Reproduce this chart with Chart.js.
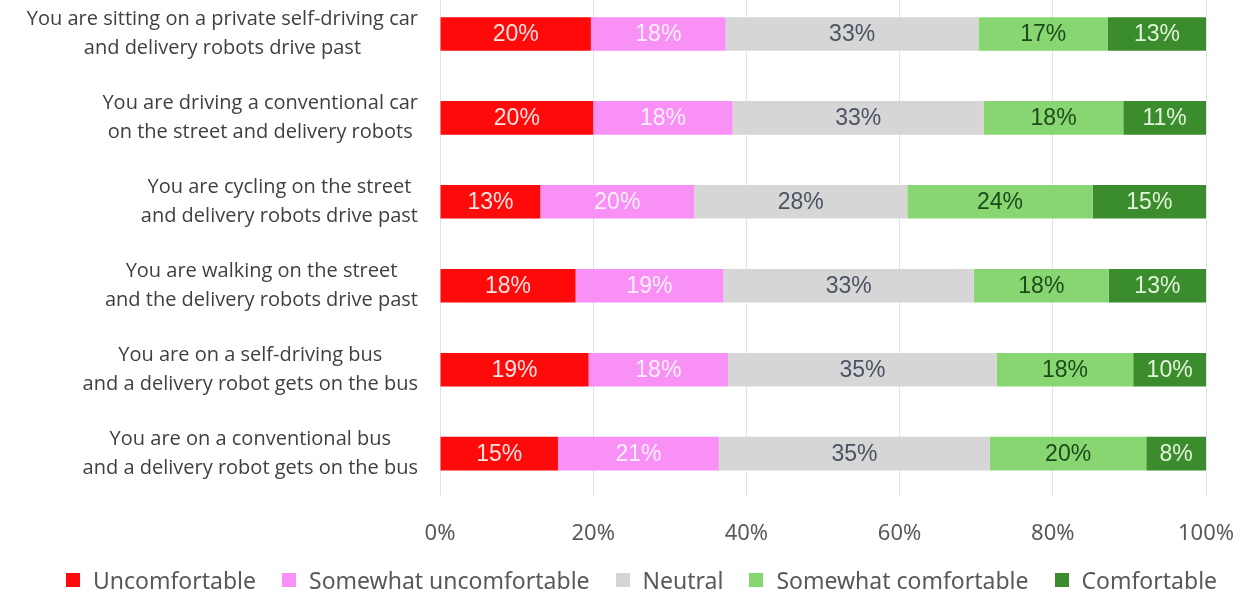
<!DOCTYPE html>
<html lang="en">
<head>
    <meta charset="UTF-8">
    <title>Comfort with delivery robots</title>
    <script src="https://cdn.jsdelivr.net/npm/chart.js"></script>
    <style>
        body {
            margin: 0;
            background-color: #FFFFFF;
            font-family: 'Noto Sans', sans-serif;
            overflow: hidden;
        }
        #chart-wrap {
            position: relative;
            width: 1247px;
            height: 580px;
            margin-top: -8px;
        }
        #legend-container {
            position: absolute;
            top: 566px;
            left: 36px;
            width: 1211px;
            display: flex;
            justify-content: center;
            line-height: 28px;
        }
        .legend-item {
            display: flex;
            align-items: center;
            margin: 0 13px;
        }
        .legend-color {
            width: 14px;
            height: 14px;
            margin-right: 13px;
        }
        .legend-label {
            font-size: 23px;
            color: #595959;
        }
    </style>
</head>
<body>
    <div id="chart-wrap"><canvas id="myChart"></canvas></div>
    <div id="legend-container"></div>

    <script>
        // situations (two lines each)
        var categories = [
            ['You are sitting on a private self-driving car', 'and delivery robots drive past'],
            ['You are driving a conventional car', 'on the street and delivery robots'],
            ['You are cycling on the street', 'and delivery robots drive past'],
            ['You are walking on the street', 'and the delivery robots drive past'],
            ['You are on a self-driving bus', 'and a delivery robot gets on the bus'],
            ['You are on a conventional bus', 'and a delivery robot gets on the bus']
        ];

        var seriesNames = ['Uncomfortable', 'Somewhat uncomfortable', 'Neutral', 'Somewhat comfortable', 'Comfortable'];

        // share of respondents, %
        var uncomfortable         = [19.7, 20.0, 13.1, 17.7, 19.4, 15.4];
        var somewhatUncomfortable = [17.6, 18.2, 20.1, 19.3, 18.2, 21.0];
        var neutral               = [33.0, 32.8, 27.8, 32.7, 35.1, 35.4];
        var somewhatComfortable   = [16.9, 18.2, 24.2, 17.6, 17.8, 20.4];
        var comfortable           = [12.8, 10.8, 14.8, 12.7,  9.5,  7.8];

        var xTicks = [0, 20, 40, 60, 80, 100];

        var colors = ['#ff0a0a', '#f890f5', '#d6d6d6', '#88d672', '#3b8c2c'];
        var labelColors = ['#ffe2e2', '#fff0fe', '#4a5361', '#1d4a1a', '#e2f4dc'];

        var seriesData = [uncomfortable, somewhatUncomfortable, neutral, somewhatComfortable, comfortable];

        var chartData = {
            labels: categories,
            datasets: seriesNames.map(function(name, i) {
                return {
                    label: name,
                    data: seriesData[i],
                    backgroundColor: colors[i],
                    borderWidth: 0,
                    categoryPercentage: 0.8,
                    barPercentage: 0.5
                };
            })
        };

        // value labels inside each segment
        var segmentLabels = {
            id: 'segmentLabels',
            afterDatasetsDraw: function(chart) {
                var ctx = chart.ctx;
                ctx.save();
                ctx.font = '23px "Liberation Sans", Arial, sans-serif';
                ctx.textAlign = 'center';
                ctx.textBaseline = 'middle';
                chart.data.datasets.forEach(function(ds, di) {
                    var meta = chart.getDatasetMeta(di);
                    ctx.fillStyle = labelColors[di];
                    meta.data.forEach(function(bar, i) {
                        var cx = (bar.x + bar.base) / 2;
                        ctx.fillText(Math.round(ds.data[i]) + '%', cx, bar.y + 1);
                    });
                });
                ctx.restore();
            }
        };

        // category labels: each block centred on its own widest line, right edge at the axis
        var categoryLabels = {
            id: 'categoryLabels',
            afterDraw: function(chart) {
                var ctx = chart.ctx;
                var yScale = chart.scales.y;
                var right = chart.chartArea.left - 22;
                ctx.save();
                ctx.font = '20px "Open Sans", sans-serif';
                ctx.fillStyle = '#404040';
                ctx.textAlign = 'center';
                ctx.textBaseline = 'middle';
                chart.data.labels.forEach(function(lines, i) {
                    var widest = Math.max.apply(null, lines.map(function(t) { return ctx.measureText(t).width; }));
                    var cx = right - widest / 2;
                    var cy = yScale.getPixelForValue(i);
                    ctx.fillText(lines[0], cx, cy - 14.5);
                    ctx.fillText(lines[1], cx, cy + 14.5);
                });
                ctx.restore();
            }
        };

        var ctx = document.getElementById('myChart').getContext('2d');
        var myChart = new Chart(ctx, {
            type: 'bar',
            data: chartData,
            plugins: [segmentLabels, categoryLabels],
            options: {
                indexAxis: 'y',
                responsive: true,
                maintainAspectRatio: false,
                animation: false,
                layout: {
                    padding: { top: 0, right: 41, bottom: 0, left: 0 }
                },
                scales: {
                    x: {
                        stacked: true,
                        min: 0,
                        max: 100,
                        afterBuildTicks: function(scale) {
                            scale.ticks = xTicks.map(function(v) { return { value: v }; });
                        },
                        afterFit: function(scale) {
                            // the end labels fit inside the layout padding
                            scale.paddingLeft = 0;
                            scale.paddingRight = 0;
                        },
                        ticks: {
                            callback: function(value) { return value + '%'; },
                            color: '#595959',
                            font: { family: 'Noto Sans', size: 22 },
                            padding: 25,
                            maxRotation: 0
                        },
                        grid: {
                            color: '#e2e2e2',
                            drawTicks: false
                        },
                        border: { display: false }
                    },
                    y: {
                        stacked: true,
                        ticks: { display: false },
                        grid: { display: false },
                        border: { display: false },
                        afterFit: function(scale) {
                            scale.width = 440;
                        }
                    }
                },
                plugins: {
                    legend: { display: false },
                    tooltip: { enabled: false }
                }
            }
        });

        // Custom legend
        var legendContainer = document.getElementById('legend-container');
        seriesNames.forEach(function(label, index) {
            var legendItem = document.createElement('div');
            legendItem.classList.add('legend-item');

            var legendColor = document.createElement('div');
            legendColor.classList.add('legend-color');
            legendColor.style.backgroundColor = colors[index];

            var legendLabel = document.createElement('div');
            legendLabel.classList.add('legend-label');
            legendLabel.textContent = label;

            legendItem.appendChild(legendColor);
            legendItem.appendChild(legendLabel);
            legendContainer.appendChild(legendItem);
        });
    </script>
</body>
</html>
